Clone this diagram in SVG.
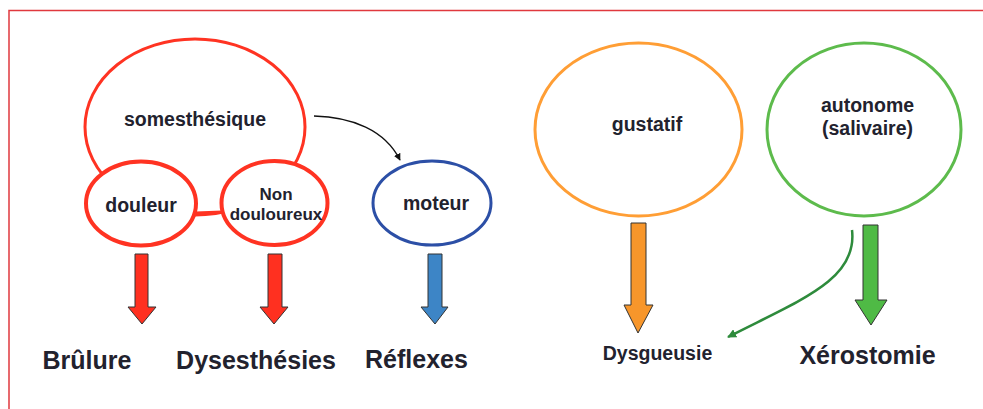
<svg xmlns="http://www.w3.org/2000/svg" width="983" height="409" viewBox="0 0 983 409">
<defs>
<style>
.t{font-family:"Liberation Sans",Arial,sans-serif;font-weight:bold;fill:#22222e;text-anchor:middle}
.n{font-size:19.5px}
.s{font-size:17px}
.l{font-size:25px}
.m{font-size:19.5px}
.blk{stroke:#333;stroke-width:1}
</style>
<marker id="ah" viewBox="0 0 10 10" refX="9" refY="5" markerWidth="7" markerHeight="7" orient="auto" markerUnits="userSpaceOnUse">
<path d="M0,0 L10,5 L0,10 z" fill="#111"/>
</marker>
<marker id="ag" viewBox="0 0 10 10" refX="9" refY="5" markerWidth="9" markerHeight="9" orient="auto" markerUnits="userSpaceOnUse">
<path d="M0,0 L10,5 L0,10 z" fill="#2e8b3c"/>
</marker>
</defs>
<rect x="0" y="0" width="983" height="409" fill="#fff"/>
<path d="M9,409 V10.5 H983" fill="none" stroke="#e0393e" stroke-width="1.5"/>

<g id="somesthesique">
<ellipse cx="195" cy="127" rx="110" ry="88" fill="#fff" stroke="#ff3322" stroke-width="3"/>
<text class="t n" x="195" y="126">somesthésique</text>
</g>

<g id="connectors">
<line x1="196" y1="213" x2="222" y2="212" stroke="#ff3322" stroke-width="3"/>
<path d="M314,116 C352,117 385,130 400,160" fill="none" stroke="#111" stroke-width="1.3" marker-end="url(#ah)"/>
<path d="M852,230 C858,280 800,300 728,337" fill="none" stroke="#2e8b3c" stroke-width="2.5" marker-end="url(#ag)"/>
<polygon class="blk" fill="#ff3020" points="135,254 148,254 148,307 156,307 142,324 128,307 135,307"/>
<polygon class="blk" fill="#ff3020" points="268,254 282,254 282,307 288,307 274,324 260,307 268,307"/>
<polygon class="blk" fill="#3d85c6" points="428,254 442,254 442,307 448,307 435,324 421,307 428,307"/>
<polygon class="blk" fill="#f7962b" points="631,223 646,223 646,305 653,305 638,333 624,305 631,305"/>
<polygon class="blk" fill="#4fba45" points="863,225 878,225 878,300 887,300 871,325 855,300 863,300"/>
</g>

<g id="douleur">
<ellipse cx="141" cy="203.5" rx="55" ry="42" fill="#fff" stroke="#ff3322" stroke-width="4"/>
<text class="t n" x="141" y="212">douleur</text>
</g>

<g id="non-douloureux">
<ellipse cx="274.5" cy="203" rx="53" ry="42" fill="#fff" stroke="#ff3322" stroke-width="4"/>
<text class="t s" x="276" y="200">Non</text>
<text class="t s" x="276" y="220">douloureux</text>
</g>

<g id="moteur">
<ellipse cx="432" cy="203" rx="59" ry="42" fill="#fff" stroke="#2c4fa6" stroke-width="3"/>
<text class="t n" x="436" y="210">moteur</text>
</g>

<g id="gustatif">
<ellipse cx="638.5" cy="129.5" rx="103.5" ry="86.5" fill="#fff" stroke="#ff9e35" stroke-width="3"/>
<text class="t n" x="647" y="131">gustatif</text>
</g>

<g id="autonome">
<ellipse cx="864" cy="129.5" rx="97" ry="86.5" fill="#fff" stroke="#5dbb4c" stroke-width="3"/>
<text class="t n" x="867.5" y="112">autonome</text>
<text class="t n" x="867.5" y="135">(salivaire)</text>
</g>

<g id="labels">
<text class="t l" x="87" y="369">Brûlure</text>
<text class="t l" x="256" y="369">Dysesthésies</text>
<text class="t l" x="416.5" y="368">Réflexes</text>
<text class="t m" x="657.5" y="360">Dysgueusie</text>
<text class="t l" x="867.5" y="364">Xérostomie</text>
</g>
</svg>
